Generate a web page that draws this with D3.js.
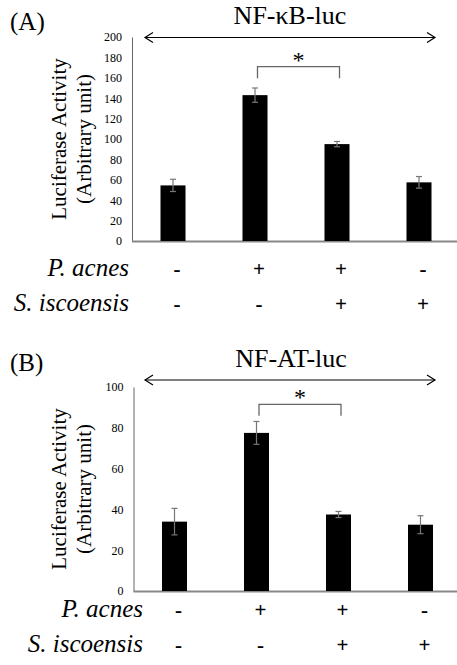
<!DOCTYPE html>
<html><head><meta charset="utf-8">
<script src="https://cdn.jsdelivr.net/npm/d3@7"></script>
<style>body{margin:0;background:#fff}svg{display:block}</style>
</head><body>
<script>
// ---- data ----
const categories = ["c1","c2","c3","c4"];
const pAcnes = ["-","+","+","-"];
const sIscoensis = ["-","-","+","+"];
const panelLetters = ["(A)","(B)"];
const titles = ["NF-\u03BAB-luc","NF-AT-luc"];
const valuesA = [54.5, 143, 95, 57.5];
const errorsA = [6, 7, 2.6, 5.7];
const valuesB = [34, 77.5, 37.5, 32.5];
const errorsB = [6.5, 5.6, 1.5, 4.4];
const ticksA = [0,20,40,60,80,100,120,140,160,180,200];
const ticksB = [0,20,40,60,80,100];
const yLabel1 = "Luciferase Activity";
const yLabel2 = "(Arbitrary unit)";
const rowLabels = ["P. acnes","S. iscoensis"];
const sigPair = [1,2];

const FF = "Liberation Serif";
const svg = d3.select("body").append("svg").attr("width",457).attr("height",665).attr("font-family",FF);

function txt(g){ return g.append("text").attr("font-family",FF).style("font-family",'"Liberation Serif"').attr("fill","#000"); }

function panel(cfg){
  const g = svg.append("g").attr("font-family",FF);
  const y = d3.scaleLinear().domain([0, cfg.ticks[cfg.ticks.length-1]]).range([cfg.y0, cfg.y1]);
  const x = d3.scaleBand().domain(categories).range([cfg.ax, cfg.ax+328]).paddingInner(0.695).paddingOuter(0.3475);
  const cx = i => x(categories[i])+x.bandwidth()/2;
  // letter & title
  txt(g).attr("x",10).attr("y",cfg.letterY).attr("font-size",25).text(cfg.letter);
  txt(g).attr("x",cfg.titleX).attr("y",cfg.titleY).attr("font-size",26).attr("text-anchor","middle").text(cfg.title);
  // double arrow
  const ay = cfg.arrowY;
  g.append("line").attr("x1",145).attr("x2",435).attr("y1",ay).attr("y2",ay).attr("stroke","#000").attr("stroke-width",1.2);
  g.append("path").attr("d",`M153,${ay-5}L145,${ay}L153,${ay+5}M427,${ay-5}L435,${ay}L427,${ay+5}`).attr("fill","none").attr("stroke","#000").attr("stroke-width",1.2);
  // y axis
  const axis = d3.axisLeft(y).tickValues(cfg.ticks).tickSize(0).tickPadding(10).tickFormat(d3.format("d"));
  const ag = g.append("g").attr("transform",`translate(${cfg.ax},0)`).call(axis);
  ag.attr("font-family",FF).attr("font-size",12);
  ag.select(".domain").attr("stroke","#666").attr("stroke-width",1);
  ag.selectAll("text").attr("font-family",FF).style("font-family",'"Liberation Serif"').attr("fill","#000");
  // baseline
  g.append("line").attr("x1",cfg.ax).attr("x2",457).attr("y1",y(0)+0.5).attr("y2",y(0)+0.5).attr("stroke","#888").attr("stroke-width",2);
  // bars
  g.selectAll("rect.bar").data(cfg.values).join("rect").attr("class","bar")
    .attr("x",(d,i)=>x(categories[i])).attr("width",x.bandwidth())
    .attr("y",d=>y(d)).attr("height",d=>y(0)-y(d)).attr("fill","#000");
  // error bars
  const eg = g.selectAll("g.err").data(cfg.values).join("g").attr("class","err");
  eg.append("line").attr("x1",(d,i)=>cx(i)).attr("x2",(d,i)=>cx(i))
    .attr("y1",(d,i)=>y(d+cfg.errors[i])).attr("y2",(d,i)=>y(d-cfg.errors[i])).attr("stroke","#777").attr("stroke-width",1.2);
  [1,-1].forEach(s=>{
    eg.append("line").attr("x1",(d,i)=>cx(i)-3).attr("x2",(d,i)=>cx(i)+3)
      .attr("y1",(d,i)=>y(d+s*cfg.errors[i])).attr("y2",(d,i)=>y(d+s*cfg.errors[i]))
      .attr("stroke","#777").attr("stroke-width",1.2);
  });
  // significance bracket
  const bx1 = cx(sigPair[0])+2.5, bx2 = cx(sigPair[1])+2.5;
  g.append("path").attr("d",`M${bx1},${cfg.brY+11.5}V${cfg.brY}H${bx2}V${cfg.brY+11.5}`).attr("fill","none").attr("stroke","#666").attr("stroke-width",1.3);
  txt(g).attr("x",(bx1+bx2)/2).attr("y",cfg.brY+1).attr("font-size",24).attr("text-anchor","middle").text("*");
  // y label
  const cy = (cfg.y0+cfg.y1)/2;
  txt(g).attr("transform",`translate(66,${cy}) rotate(-90)`).attr("font-size",21).attr("text-anchor","middle").text(yLabel1);
  txt(g).attr("transform",`translate(91,${cy}) rotate(-90)`).attr("font-size",21).attr("text-anchor","middle").text(yLabel2);
  // condition rows
  [pAcnes, sIscoensis].forEach((row,r)=>{
    const by = cfg.rowY[r];
    txt(g).attr("x",cfg.rowLabelX).attr("y",by).attr("font-size",25).attr("font-style","italic").attr("text-anchor","end").text(rowLabels[r]);
    row.forEach((d,i)=>{
      txt(g).attr("x",cx(i)+4).attr("y",by).attr("font-size",21).attr("font-weight","bold").attr("text-anchor","middle").text(d);
    });
  });
}

panel({letter:panelLetters[0], title:titles[0], values:valuesA, errors:errorsA, ticks:ticksA,
  y0:241, y1:37, ax:132, letterY:30, titleX:290, titleY:24, arrowY:37.5, brY:66.7, rowY:[276,311], rowLabelX:129});
panel({letter:panelLetters[1], title:titles[1], values:valuesB, errors:errorsB, ticks:ticksB,
  y0:591, y1:387, ax:133.5, letterY:371, titleX:291, titleY:367, arrowY:380, brY:404.3, rowY:[617,651.5], rowLabelX:143});
</script>
</body></html>
